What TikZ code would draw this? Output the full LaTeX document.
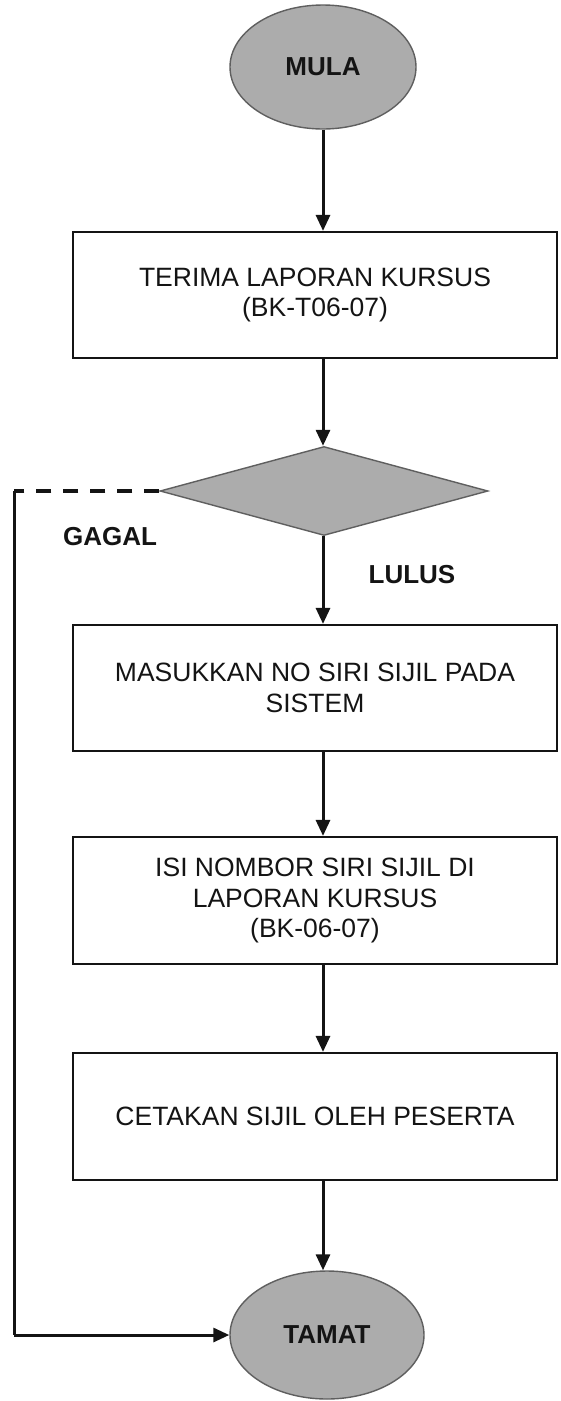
\documentclass[tikz,border=0pt]{standalone}
\usepackage{fontspec}
\setmainfont{Liberation Sans}
\usetikzlibrary{shapes.geometric,arrows.meta}
\definecolor{shapefill}{RGB}{172,172,172}
\definecolor{shapeline}{RGB}{95,95,95}
\definecolor{ink}{RGB}{20,20,20}
\tikzset{
  term/.style={ellipse, draw=shapeline, line width=1.4pt, fill=shapefill, minimum width=186pt, minimum height=124pt, inner sep=0pt, font=\fontsize{26}{30}\selectfont\bfseries, text=ink},
  procbox/.style={rectangle, draw=ink, line width=2.2pt, fill=white, minimum width=484pt, inner sep=0pt, align=center, font=\fontsize{26.5}{30.5}\selectfont, text=ink},
  decision/.style={diamond, draw=shapeline, line width=1.4pt, fill=shapefill, minimum width=328pt, minimum height=89pt, inner sep=0pt},
  lbl/.style={font=\fontsize{26}{30}\selectfont\bfseries, text=ink, inner sep=0pt},
  flow/.style={draw=ink, line width=3pt, -{Triangle[length=16pt,width=14pt]}},
  plain/.style={draw=ink, line width=3pt},
  dashline/.style={draw=ink, line width=3.2pt, dash pattern=on 15pt off 12pt}
}
\begin{document}
\begin{tikzpicture}[x=1pt,y=-1pt]
\useasboundingbox[fill=white] (0,0) rectangle (560,1401);
\node[term] (mula) at (323,67) {MULA};
\node[procbox, minimum height=126pt] (b1) at (315,295) {TERIMA LAPORAN KURSUS\\(BK-T06-07)};
\node[decision] (dec) at (324,491) {};
\node[procbox, minimum height=126pt] (b2) at (315,688) {MASUKKAN NO SIRI SIJIL PADA\\SISTEM};
\node[procbox, minimum height=127pt] (b3) at (315,900.5) {ISI NOMBOR SIRI SIJIL DI\\LAPORAN KURSUS\\(BK-06-07)};
\node[procbox, minimum height=127pt] (b4) at (315,1116.5) {CETAKAN SIJIL OLEH PESERTA};
\node[term, minimum width=194pt, minimum height=128pt] (tamat) at (327,1335) {TAMAT};
\node[lbl] (gagal) at (110,537) {GAGAL};
\node[lbl] (lulus) at (412,575) {LULUS};
\coordinate (c1) at (14,491);
\coordinate (c2) at (14,1335);
\draw[flow] (mula.south) -- (b1.north -| mula.south);
\draw[flow] (b1.south -| mula.south) -- (dec.north -| mula.south);
\draw[flow] (dec.south -| mula.south) -- (b2.north -| mula.south);
\draw[flow] (b2.south -| mula.south) -- (b3.north -| mula.south);
\draw[flow] (b3.south -| mula.south) -- (b4.north -| mula.south);
\draw[flow] (b4.south -| mula.south) -- (tamat.north -| mula.south);
\draw[dashline] (dec.west) -- (c1);
\draw[plain] (c1) -- (c2);
\draw[flow] (c2) -- (tamat.west);
\end{tikzpicture}
\end{document}
